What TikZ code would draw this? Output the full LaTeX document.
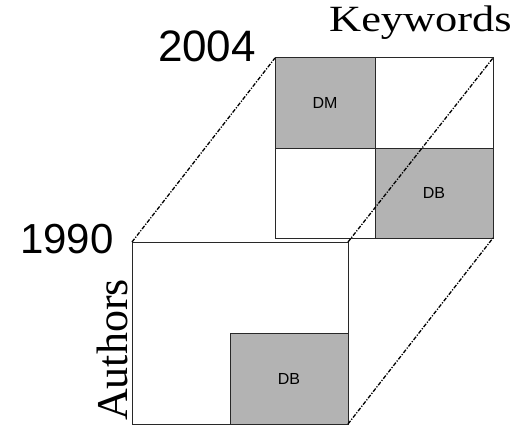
\documentclass[tikz,border=0pt]{standalone}
\usepackage{fontspec}
\setmainfont{Liberation Serif}
\newfontfamily\arialf{Liberation Sans}
\definecolor{cellgray}{RGB}{179,179,179}
\definecolor{edgecol}{RGB}{40,40,40}
\begin{document}
\begin{tikzpicture}[x=1pt,y=-1pt,
  frame/.style={draw=edgecol,line width=1pt,fill=white,inner sep=0pt,outer sep=0pt},
  cell/.style={draw=edgecol,line width=1pt,inner sep=0pt,outer sep=0pt,font=\arialf\fontsize{16}{18}\selectfont},
  gcell/.style={cell,fill=cellgray},
  wcell/.style={cell,fill=white},
  link/.style={draw=black,line width=1.3pt,dash pattern=on 4pt off 1.5pt on 1.2pt off 1.5pt},
  year/.style={inner sep=0pt,font=\arialf\fontsize{44}{50}\selectfont},
  axis/.style={inner sep=0pt,font=\fontsize{44}{50}\selectfont}]
\useasboundingbox (0,0) rectangle (529,433);
% back square (2004)
\node[gcell,minimum width=100pt,minimum height=90pt] (dm) at (325,103) {DM};
\node[wcell,minimum width=118pt,minimum height=90pt] (tr) at (434,103) {};
\node[wcell,minimum width=100pt,minimum height=90pt] (bl) at (325,193) {};
\node[gcell,minimum width=118pt,minimum height=90pt] (dbb) at (434,193) {DB};
\node[draw=edgecol,line width=1pt,inner sep=0pt,outer sep=0pt,minimum width=218pt,minimum height=180pt] (back) at (384,148) {};
% front square (1990) frame
\node[frame,minimum width=216pt,minimum height=182pt] (front) at (240,333) {};
\node[gcell,minimum width=118pt,minimum height=91pt] (dbf) at (289,378.5) {DB};
\draw[draw=edgecol,line width=1pt] (front.north west) rectangle (front.south east);
% connectors
\draw[link] (front.north west) -- (back.north west);
\draw[link] (front.north east) -- (back.north east);
\draw[link] (front.south east) -- (back.south east);
% labels
\node[year] (y2004) at (207,46.5) {2004};
\node[year,font=\arialf\fontsize{42}{48}\selectfont] (y1990) at (67,239) {1990};
\node[axis,anchor=base west] (kw) at (329,32) {\fontsize{37}{40}\selectfont\scalebox{1.2}[1]{Keywords}};
\node[axis,anchor=base,rotate=90] (au) at (127,350) {Authors};
\end{tikzpicture}
\end{document}
